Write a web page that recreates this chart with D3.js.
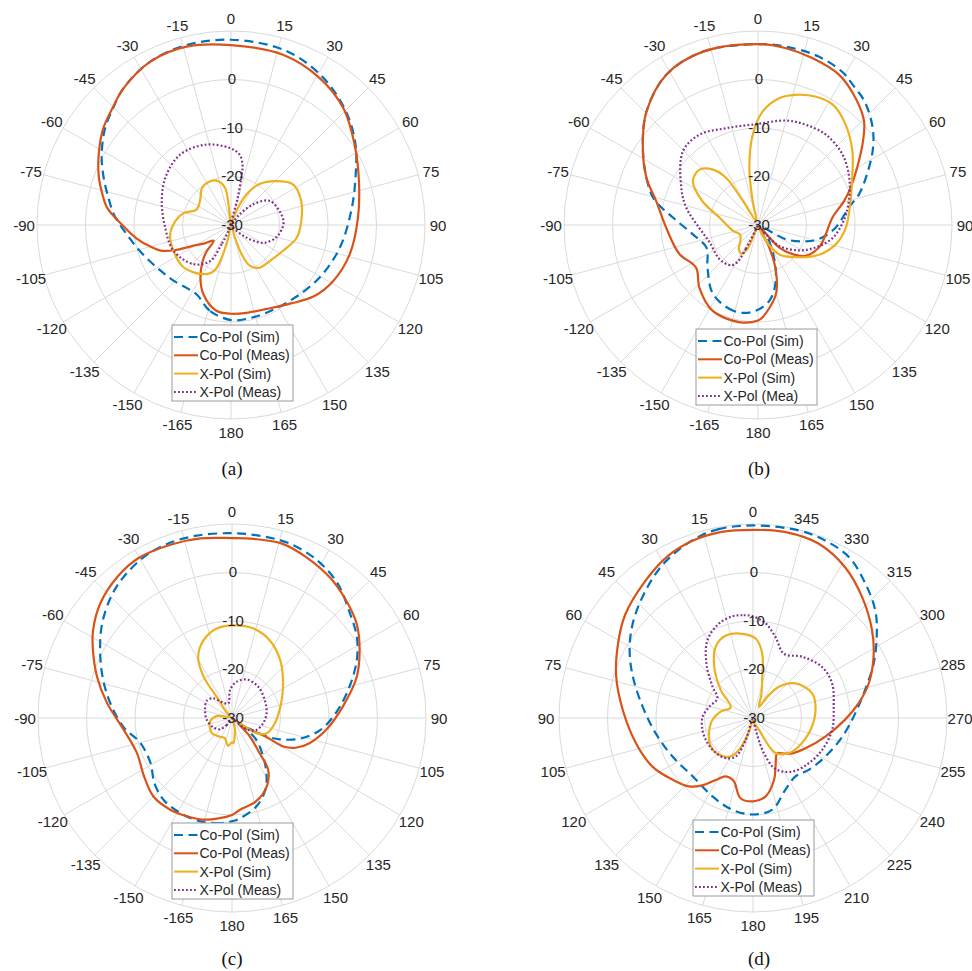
<!DOCTYPE html>
<html>
<head>
<meta charset="utf-8">
<script src="https://cdn.jsdelivr.net/npm/d3@7"></script>
<style>
  body { margin: 0; background: #fff; }
  text { font-family: "Liberation Sans", Arial, sans-serif; }
</style>
</head>
<body>
<div id="chart"></div>
<script>
// ---- radial axis / tick labels ----
const rMin = -30, rMax = 10;
const rTicks = [-30, -20, -10, 0];
const rRings = [-20, -10, 0, 10];
const thetaSigned = [0, 15, 30, 45, 60, 75, 90, 105, 120, 135, 150, 165, 180,
                     -165, -150, -135, -120, -105, -90, -75, -60, -45, -30, -15];
const theta360 = [0, 15, 30, 45, 60, 75, 90, 105, 120, 135, 150, 165, 180,
                  195, 210, 225, 240, 255, 270, 285, 300, 315, 330, 345];
const legendNames = ["Co-Pol (Sim)", "Co-Pol (Meas)", "X-Pol (Sim)", "X-Pol (Meas)"];
const legendNamesB = ["Co-Pol (Sim)", "Co-Pol (Meas)", "X-Pol (Sim)", "X-Pol (Mea)"];

// ---- (a) [angle deg, gain dB] ----
const aCoSim = [[-180,-10.4],[-166,-11.8],[-154,-14.0],[-144,-14.1],[-134,-13.5],[-124,-12.8],[-115,-11.8],[-105,-10.3],[-95,-8.4],[-85,-5.8],[-77,-4.0],[-70,-2.1],[-62,0.2],[-53,2.6],[-45,4.3],[-38,5.9],[-26,7.6],[-14,8.2],[0,8.2],[17,7.7],[31,6.0],[45,3.4],[57,0.6],[69,-2.5],[83,-5.0],[102,-7.1],[121,-8.8],[140,-10.1],[158,-10.5],[170,-10.4]];
const aCoMeas = [[-180,-11.7],[-170,-12.1],[-158,-14.7],[-150,-17.4],[-143,-20.1],[-138,-22.2],[-132,-25.2],[-125,-23.4],[-119,-21.2],[-114,-17.2],[-110,-14.6],[-105,-12.8],[-98,-10.3],[-90,-7.6],[-82,-4.2],[-76,-2.6],[-70,-1.0],[-62,0.9],[-53,3.0],[-45,4.4],[-38,5.9],[-26,7.6],[-14,7.9],[0,7.1],[17,6.7],[31,5.4],[44,3.4],[57,0.4],[71,-2.1],[87,-3.8],[104,-4.8],[119,-6.0],[131,-7.5],[143,-9.7],[157,-11.2],[170,-11.6]];
const aXSim = [[-168,-27.3],[-164,-23.0],[-160,-20.0],[-151,-18.4],[-132,-16.9],[-114,-17.0],[-99,-17.3],[-86,-18.5],[-76,-19.9],[-66,-22.2],[-52,-21.9],[-38,-20.3],[-26,-20.0],[-16,-20.6],[-9,-22.3],[-7,-27.5],[6,-30],[20,-27.5],[27,-22.9],[35,-19.7],[46,-17.0],[57,-14.7],[71,-14.7],[87,-15.5],[101,-16.2],[116,-18.0],[133,-19.1],[146,-19.4],[155,-20.7],[160,-23.6],[163,-27.3],[172,-30]];
const aXMeas = [[-157,-28.5],[-154,-25.6],[-150,-21.4],[-136,-18.8],[-114,-17.0],[-92,-16.4],[-71,-14.9],[-54,-13.3],[-36,-12.1],[-18,-12.6],[-1,-14.1],[7,-15.4],[11,-17.5],[12,-19.4],[14,-24.5],[25,-30],[38,-27.5],[47,-23.8],[58,-20.6],[78,-19.4],[89,-19.2],[105,-20.3],[119,-22.4],[129,-25.9],[140,-29],[175,-30]];

// ---- (b) ----
const bCoSim = [[-176,-12.0],[-164,-11.6],[-147,-13.0],[-130,-16.4],[-114,-18.4],[-98,-16.4],[-85,-12.4],[-76,-7.9],[-67,-5.0],[-55,-1.0],[-44.5,2.8],[-31.4,6.3],[-17.6,7.5],[0,7.3],[10,7.2],[20,6.9],[29,6.0],[34,4.9],[41,3.6],[50,0.9],[57,-1.8],[65,-5.2],[73,-8.2],[79,-10.9],[92,-14.0],[103,-17.1],[109,-19.6],[117,-23.5],[130,-29.5],[145,-26.0],[161,-18.6],[171.5,-14.2]];
const bCoMeas = [[-180,-10.3],[-169,-9.6],[-152,-10.0],[-137,-12.3],[-124.5,-14.5],[-110,-12.7],[-92,-11.1],[-77,-8.5],[-67,-5.0],[-55,-1.0],[-44.5,2.8],[-31.4,6.3],[-17.6,7.5],[0,7.3],[9,6.9],[18,6.2],[28.4,5.2],[37.6,3.0],[45.6,0.6],[51.4,-2.3],[60,-6.4],[68,-9.4],[74.5,-11.6],[84.4,-14.6],[97.8,-15.9],[110.3,-16.6],[122.9,-18.3],[130.2,-20.7],[136.7,-23.6],[145,-29.5],[153.4,-24.8],[158.6,-19.9],[165.4,-15.3],[177,-11.0]];
const bXSim = [[-165,-30],[-156,-24.5],[-150,-23.2],[-142,-23.6],[-132,-25.1],[-118,-25.8],[-103,-24.7],[-79,-21.9],[-67,-17.6],[-56,-13.8],[-46.5,-13.4],[-39,-15.3],[-34,-18.3],[-32,-24.2],[-22,-29],[-12.5,-24.9],[-8.6,-18.1],[-3.4,-11.4],[2.3,-6.6],[9.5,-3.5],[16,-2.1],[24,-1.0],[32,-0.8],[41,-2.5],[52,-5.3],[63,-8.2],[75.5,-10.3],[92,-11.9],[104,-13.5],[116,-16.0],[128,-19.2],[144,-22.5],[153,-26.3],[165,-29.8]];
const bXMeas = [[-158,-29.8],[-153,-24.5],[-151,-21.3],[-146,-20.0],[-132,-19.4],[-110,-19.4],[-93,-17.9],[-76.5,-14.8],[-64,-12.4],[-45.5,-8.3],[-33,-7.8],[-18,-9.0],[-1,-9.2],[15,-7.7],[25.5,-7.1],[37,-6.7],[50,-7.3],[62.6,-8.8],[75,-10.6],[87,-12.3],[100,-14.4],[111,-17.2],[121.5,-20.0],[134.5,-23.8],[139.5,-27.5],[150,-30]];

// ---- (c) ----
const cCoSim = [[-180,-8.7],[-173.5,-8.2],[-163,-7.7],[-151,-7.7],[-140,-8.0],[-130,-9.1],[-119,-10.8],[-105,-10.4],[-95,-7.6],[-83,-4.7],[-72,-1.9],[-62,0.8],[-54,3.1],[-45,5.3],[-38,6.6],[-29,7.8],[-20.5,8.3],[-11,8.3],[0,8.1],[9,8.0],[18,7.9],[28,7.0],[38,5.3],[48,2.6],[57,0.7],[65,-1.6],[75,-4.9],[87,-8.5],[98,-11.7],[107,-15.4],[114,-19.2],[118,-21.9],[125,-26.3],[132,-23.2],[141,-19.8],[148,-16.6],[155,-13.7],[164.5,-11.1],[175,-9.3]];
const cCoMeas = [[-180,-10.0],[-173,-9.2],[-164,-8.2],[-155,-7.7],[-146,-7.2],[-135,-7.1],[-124,-8.2],[-110,-9.1],[-96,-7.5],[-83,-4.0],[-73,-0.9],[-64,1.9],[-58,3.8],[-49,6.0],[-39,7.5],[-30,8.2],[-19,7.9],[-10,7.6],[0,7.1],[7,7.2],[16,7.4],[25,6.5],[35,5.3],[44,3.8],[53,2.2],[62,-0.2],[72,-3.0],[84,-7.0],[97,-10.4],[108,-13.2],[115,-15.5],[119,-17.9],[119,-21.9],[125,-26.5],[130,-28.3],[136,-24.7],[142,-20.7],[145,-17.0],[153,-14.2],[164,-12.1],[175,-11.0]];
const cXSim = [[-180,-25],[-172,-24.2],[-160,-25.6],[-147,-25.4],[-127,-24.8],[-100,-25.4],[-83,-26.8],[-60,-29.5],[-42,-28],[-36,-25],[-34.5,-19.7],[-29,-15.6],[-20,-12.9],[-10,-11.3],[1,-10.9],[13,-11.0],[26,-12.2],[40,-14.5],[56,-17.3],[73,-19.4],[97,-21.1],[114,-22.2],[122,-24.0],[124,-27.3],[140,-29.5],[160,-29],[166,-27.5],[177,-24.8]];
const cXMeas = [[-150,-29.5],[-143,-28.2],[-133,-26.6],[-117,-25.7],[-94.5,-24.8],[-73.5,-24.2],[-55.6,-23.7],[-43.5,-24.4],[-33,-26.1],[-14,-26.9],[-4,-24.2],[7,-22.5],[21,-21.5],[40,-21.6],[61,-22.3],[82,-22.8],[100,-23.5],[116,-24.4],[126,-25.8],[131,-27.8],[145,-29.8]];

// ---- (d) angles 0..360, counter-clockwise ----
const dCoSim = [[0,9.7],[10,9.6],[16,9.1],[23.4,8.0],[31.8,6.4],[41.6,4.0],[52,1.5],[61.3,-1.0],[71,-3.8],[84,-7.1],[99,-9.7],[115.6,-11.6],[134,-12.7],[152.7,-11.8],[167.3,-10.6],[180,-10.1],[191.9,-10.7],[204.4,-13.8],[216,-15.1],[227,-14.3],[242,-13.1],[258,-11.2],[272.6,-8.9],[284,-6.2],[294.3,-2.7],[304.3,0.9],[311.4,3.6],[320,6.1],[329,8.6],[337.8,9.5],[346.3,9.8]];
const dCoMeas = [[0,8.8],[10,8.9],[19,8.6],[28,7.7],[39,5.8],[51,3.9],[61,1.8],[73,-0.5],[86.5,-3.1],[102,-5.3],[116,-7.0],[127.5,-9.1],[137,-10.7],[143,-12.6],[149,-15.1],[155,-16.7],[163,-16.4],[171,-13.3],[180,-12.8],[189,-13.6],[199,-16.6],[205,-19.0],[214.6,-21.2],[219.7,-20.5],[228,-19.1],[240,-17.5],[255.6,-14.6],[269,-11.0],[278,-8.0],[286.6,-5.1],[297,-2.1],[306.4,0.5],[318,3.6],[328.5,6.4],[339.3,8.4],[350,8.9]];
const dXSim = [[7.2,-12.5],[18.2,-12.1],[27.6,-13.4],[37.2,-16.8],[49.1,-21.2],[64.5,-24.9],[78.9,-23.2],[92.8,-21.6],[109.2,-20.4],[124.1,-19.5],[137.4,-19.7],[148.2,-20.6],[156.4,-22.8],[163.7,-27.1],[180,-29.5],[191,-28.9],[206.6,-27.2],[212.7,-21.4],[225.5,-19.7],[238.1,-18.9],[258.2,-17.9],[277.3,-17.0],[292.6,-16.8],[309.1,-18.7],[320.3,-21.6],[325.2,-24.2],[332.1,-27.4],[340,-25.0],[347.3,-21.3],[351.8,-16.6],[358.1,-13.6]];
const dXMeas = [[0.4,-9.0],[5.9,-8.7],[11.5,-8.6],[19.8,-9.3],[30.3,-11.4],[40.5,-15.2],[52.4,-19.5],[61.1,-21.6],[75.6,-20.7],[88.5,-19.6],[103.3,-19.3],[119,-19.3],[133.4,-19.5],[145.9,-20.0],[155.9,-21.3],[161.6,-25.2],[180,-29.8],[192.5,-27.5],[197.3,-22.4],[203.8,-18.5],[216.2,-16.3],[231,-15.2],[245.2,-14.3],[261.4,-13.5],[278,-13.2],[293.6,-12.2],[306.5,-12.3],[321.2,-13.8],[334.4,-15.3],[344.4,-12.7],[352.4,-10.3]];

// line styles, MATLAB default colours
const styles = [
  { color: "#0072BD", dash: "9,5.5" },
  { color: "#D95319", dash: null },
  { color: "#EDB120", dash: null },
  { color: "#7E2F8E", dash: "1.8,2.2" }
];

const panels = [
  { cx: 231, cy: 225, cap: "(a)", capX: 232, capY: 468, series: [aCoSim, aCoMeas, aXSim, aXMeas], names: legendNames, ticks: thetaSigned, dir: 1, legX: -59, legY: 100 },
  { cx: 758, cy: 225, cap: "(b)", capX: 759, capY: 468, series: [bCoSim, bCoMeas, bXSim, bXMeas], names: legendNamesB, ticks: thetaSigned, dir: 1, legX: -62, legY: 104 },
  { cx: 232, cy: 718, cap: "(c)", capX: 232, capY: 958, series: [cCoSim, cCoMeas, cXSim, cXMeas], names: legendNames, ticks: thetaSigned, dir: 1, legX: -60, legY: 105 },
  { cx: 753, cy: 718, cap: "(d)", capX: 759, capY: 958, series: [dCoSim, dCoMeas, dXSim, dXMeas], names: legendNames, ticks: theta360, dir: -1, legX: -60, legY: 102 }
];

const W = 972, H = 971;
const R = 194;
const svg = d3.select("#chart").append("svg")
  .attr("width", W).attr("height", H)
  .style("background", "#fff");

const r = d3.scaleLinear().domain([rMin, rMax]).range([0, R]).clamp(true);
const rad = d => d * Math.PI / 180;

panels.forEach(p => {
  const g = svg.append("g").attr("transform", `translate(${p.cx},${p.cy})`);

  // grid: spokes every 15 deg and rings every 10 dB
  g.selectAll(".spoke").data(d3.range(0, 360, 15)).join("line")
    .attr("x1", 0).attr("y1", 0)
    .attr("x2", d => R * Math.sin(rad(d)))
    .attr("y2", d => -R * Math.cos(rad(d)))
    .attr("stroke", "#dadada").attr("stroke-width", 1);

  g.selectAll(".ring").data(rRings).join("circle")
    .attr("r", d => r(d))
    .attr("fill", "none")
    .attr("stroke", "#dadada").attr("stroke-width", 1);

  // curves
  const line = d3.lineRadial()
    .angle(d => p.dir * rad(d[0]))
    .radius(d => r(d[1]))
    .curve(d3.curveCatmullRomClosed.alpha(0.5));

  p.series.forEach((s, i) => {
    g.append("path")
      .attr("d", line(s))
      .attr("fill", "none")
      .attr("stroke", styles[i].color)
      .attr("stroke-width", 2.2)
      .attr("stroke-dasharray", styles[i].dash)
      .attr("stroke-linejoin", "round");
  });

  // radial tick labels along the 0 deg spoke
  g.selectAll(".rlab").data(rTicks).join("text")
    .attr("x", 1)
    .attr("y", d => -r(d) - 1)
    .attr("text-anchor", "middle")
    .attr("dominant-baseline", "central")
    .style("font-size", "15px")
    .attr("fill", "#262626")
    .text(d => d);

  // angle labels
  g.selectAll(".tlab").data(p.ticks).join("text")
    .attr("x", d => 207 * Math.sin(p.dir * rad(d)))
    .attr("y", d => -207 * Math.cos(p.dir * rad(d)))
    .attr("text-anchor", "middle")
    .attr("dominant-baseline", "central")
    .style("font-size", "15px")
    .attr("fill", "#262626")
    .text(d => d);

  // legend
  const leg = g.append("g").attr("transform", `translate(${p.legX},${p.legY})`);
  leg.append("rect")
    .attr("width", 121).attr("height", 76)
    .attr("fill", "#fff")
    .attr("stroke", "#9a9a9a").attr("stroke-width", 1);

  p.names.forEach((name, i) => {
    const y = 12 + i * 18.3;
    leg.append("line")
      .attr("x1", 2).attr("x2", 26)
      .attr("y1", y).attr("y2", y)
      .attr("stroke", styles[i].color)
      .attr("stroke-width", 2)
      .attr("stroke-dasharray", styles[i].dash);
    leg.append("text")
      .attr("x", 27.5).attr("y", y)
      .attr("dominant-baseline", "central")
      .style("font-size", "14px")
      .attr("fill", "#262626")
      .text(name);
  });

  // caption
  svg.append("text")
    .attr("x", p.capX).attr("y", p.capY)
    .attr("text-anchor", "middle")
    .attr("dominant-baseline", "central")
    .style("font-family", "'Liberation Serif', 'Times New Roman', serif")
    .style("font-size", "19px")
    .attr("fill", "#111")
    .text(p.cap);
});
</script>
</body>
</html>
